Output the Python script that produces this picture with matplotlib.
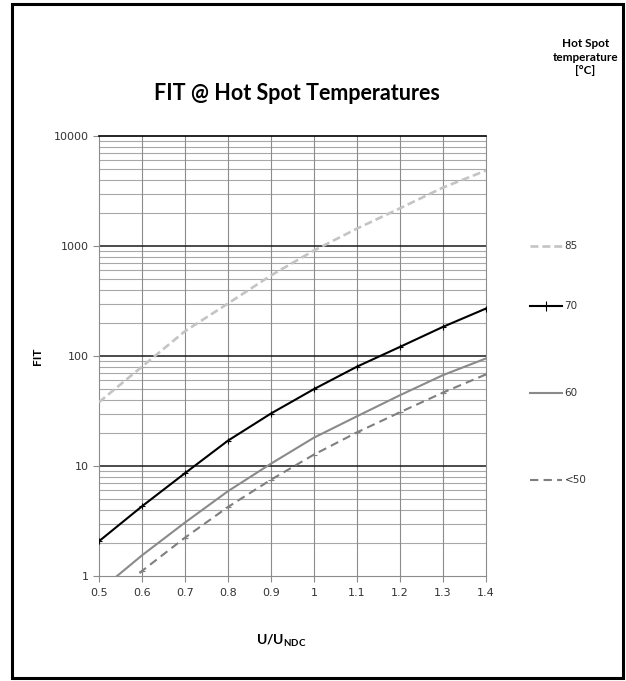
import numpy as np
import matplotlib
matplotlib.use("Agg")
import matplotlib.pyplot as plt
from matplotlib.lines import Line2D
from matplotlib.patches import Rectangle
from matplotlib.ticker import FixedLocator, NullFormatter

plt.rcParams['mathtext.fontset'] = 'custom'
plt.rcParams['mathtext.bf'] = 'Lato:bold'
plt.rcParams['mathtext.rm'] = 'Lato'

# data
u_ratio = [0.5, 0.6, 0.7, 0.8, 0.9, 1.0, 1.1, 1.2, 1.3, 1.4]
fit_85 = [38, 80, 168, 300, 540, 910, 1440, 2200, 3400, 4850]
fit_70 = [2.07, 4.3, 8.6, 17, 30, 50, 80, 121, 184, 270]
fit_60 = [0.73, 1.54, 3.06, 5.9, 10.5, 18.1, 28.3, 44, 67, 95]
fit_50 = [0.5, 1.11, 2.23, 4.24, 7.5, 12.7, 20.2, 30.8, 46.5, 68]
labels = ['85', '70', '60', '<50']
x_ticks = [0.5, 0.6, 0.7, 0.8, 0.9, 1.0, 1.1, 1.2, 1.3, 1.4]
x_tick_labels = ['0.5', '0.6', '0.7', '0.8', '0.9', '1', '1.1', '1.2', '1.3', '1.4']
y_ticks = [1, 10, 100, 1000, 10000]

fig = plt.figure(figsize=(6.26, 6.81), dpi=100)
ax = fig.add_axes([0.1581, 0.1542, 0.6182, 0.6461])

styles = [
    dict(color='#c4c4c4', lw=1.9, ls=(0, (3, 1.5))),
    dict(color='black', lw=1.5, ls='-', marker='+', ms=5, mew=0.8),
    dict(color='#8a8a8a', lw=1.5, ls='-'),
    dict(color='#7f7f7f', lw=1.5, ls=(0, (4, 2.5)), marker='+', ms=4, mew=0.8),
]
series = [fit_85, fit_70, fit_60, fit_50]
for vals, st in zip(series, styles):
    ax.plot(u_ratio, vals, zorder=3, **st)

ax.set_yscale('log')
ax.set_xlim(0.5, 1.4)
ax.set_ylim(1, 10000)

# grid: black decades, gray minors, gray verticals
minors = [m * 10 ** d for d in range(4) for m in range(2, 10)]
for v in minors:
    ax.axhline(v, color='#a8a8a8', lw=0.8, zorder=1)
for v in y_ticks[1:-1]:
    ax.axhline(v, color='#1a1a1a', lw=1.1, zorder=2)
for v in x_ticks[1:-1]:
    ax.axvline(v, color='#8c8c8c', lw=0.8, zorder=1)

ax.yaxis.set_major_locator(FixedLocator(y_ticks))
ax.yaxis.set_minor_locator(FixedLocator([]))
ax.yaxis.set_minor_formatter(NullFormatter())
ax.set_yticklabels(['1', '10', '100', '1000', '10000'])
ax.set_xticks(x_ticks)
ax.set_xticklabels(x_tick_labels)
ax.tick_params(axis='both', colors='#8c8c8c', labelcolor='#333333',
               labelsize=8, length=4, width=0.8, direction='out')
ax.tick_params(axis='x', pad=5)
ax.tick_params(axis='y', pad=3)

for s in ['left', 'bottom', 'right']:
    ax.spines[s].set_color('#8c8c8c')
    ax.spines[s].set_linewidth(0.8)
ax.spines['top'].set_color('black')
ax.spines['top'].set_linewidth(1.2)

ax.set_ylabel('FIT', family='Lato', fontweight='bold', fontsize=8.5, labelpad=8)
fig.text(0.45, 0.059, r'$\mathbf{U/U_{NDC}}$', ha='center', va='center',
         fontsize=10)

fig.text(0.474, 0.863, 'FIT @ Hot Spot Temperatures', family='Lato',
         fontweight='bold', fontsize=15.5, ha='center', va='center')

# legend
fig.text(0.935, 0.916, 'Hot Spot\ntemperature\n[\u00b0C]', family='Lato',
         fontweight='bold', fontsize=8.5, ha='center', va='center',
         linespacing=1.3)
leg_y = [1 - 246 / 681, 1 - 306 / 681, 1 - 393 / 681, 1 - 480 / 681]
x0, x1 = 530 / 626, 562 / 626
for i, (yy, st, lab) in enumerate(zip(leg_y, styles, labels)):
    kw = dict(st)
    mk = kw.pop('marker', None)
    ms = kw.pop('ms', None)
    mew = kw.pop('mew', None)
    fig.add_artist(Line2D([x0, x1], [yy, yy], transform=fig.transFigure, **kw))
    if mk and i == 1:
        fig.add_artist(Line2D([(x0 + x1) / 2], [yy], transform=fig.transFigure,
                              marker='|', ms=ms + 2, mew=mew, color=kw['color'],
                              ls='none'))
    fig.text(x1 + 0.004, yy, lab, fontsize=7.5, color='#333333',
             ha='left', va='center')

# outer frame
fig.add_artist(Rectangle((12 / 626, 3 / 681), 611 / 626, 674 / 681,
                         transform=fig.transFigure, fill=False,
                         edgecolor='black', lw=2.2))

fig.savefig('out.png', dpi=100)
